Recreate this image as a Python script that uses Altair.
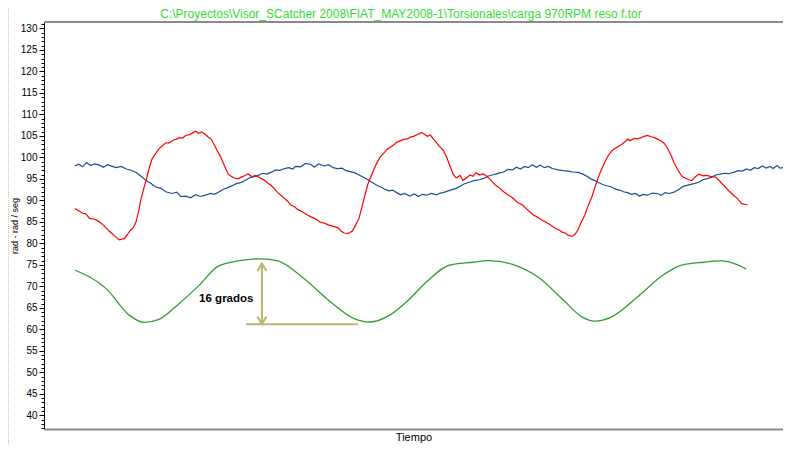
import altair as alt
import pandas as pd

TITLE = "C:\\Proyectos\\Visor_SCatcher 2008\\FIAT_MAY2008-1\\Torsionales\\carga 970RPM reso f.tor"
Y_TITLE = "rad  -  rad / seg"
X_TITLE = "Tiempo"

# time index (samples)
t_blue = [75, 79, 83, 87, 91, 95, 100, 104, 108, 113, 117, 122, 127, 132, 137, 142, 147, 152, 157, 162,
          167, 173, 178, 182, 187, 192, 197, 202, 207, 212, 216, 220, 225, 229, 233, 238, 243, 247, 252, 256,
          260, 265, 269, 273, 278, 282, 287, 291, 295, 298, 303, 308, 313, 317, 321, 327, 331, 336, 340, 345,
          349, 353, 358, 363, 367, 371, 375, 380, 384, 387, 392, 396, 400, 404, 408, 413, 418, 422, 426, 430,
          435, 440, 444, 447, 452, 456, 460, 464, 468, 473, 478, 483, 488, 492, 496, 500, 504, 508, 512, 517,
          521, 525, 529, 533, 537, 541, 545, 549, 553, 557, 563, 568, 573, 578, 583, 588, 592, 596, 600, 603,
          608, 612, 617, 621, 625, 629, 633, 637, 641, 645, 649, 653, 658, 663, 667, 671, 675, 680, 685, 690,
          695, 700, 705, 709, 713, 718, 722, 727, 731, 735, 740, 745, 749, 753, 757, 761, 765, 769, 773, 777,
          780, 784, 787, 790]
v_blue = [98.0, 98.4, 97.8, 98.8, 98.1, 98.5, 98.2, 97.7, 98.3, 97.9, 97.6, 97.9, 97.3, 97.0, 96.5, 95.6, 94.6, 93.9, 93.1, 92.8,
          92.0, 91.6, 91.9, 90.9, 91.0, 90.6, 91.3, 90.9, 91.2, 91.6, 91.4, 91.9, 92.6, 92.9, 93.3, 93.9, 94.2, 94.6, 95.3, 95.5,
          95.8, 96.3, 96.1, 96.5, 97.1, 97.0, 97.4, 97.6, 97.3, 97.9, 97.8, 98.6, 98.4, 97.7, 98.5, 98.0, 98.3, 97.6, 97.4, 97.5,
          96.9, 96.7, 96.4, 95.8, 95.3, 94.8, 94.2, 93.5, 93.1, 92.7, 92.2, 92.4, 91.8, 91.3, 91.6, 91.0, 91.5, 90.9, 91.4, 91.2,
          91.6, 91.3, 91.7, 91.8, 92.2, 92.5, 92.8, 93.3, 93.8, 94.2, 94.6, 94.8, 95.1, 95.6, 95.9, 96.1, 96.4, 96.6, 97.2, 97.1,
          97.7, 97.3, 97.9, 97.6, 98.3, 97.7, 98.2, 97.6, 97.9, 97.4, 97.1, 96.9, 96.8, 96.6, 96.5, 96.1, 95.6, 95.0, 94.6, 94.2,
          93.7, 93.4, 93.1, 92.6, 92.4, 92.0, 91.8, 91.4, 91.6, 91.0, 91.4, 91.2, 91.7, 91.6, 91.2, 91.8, 91.6, 91.9, 92.6, 93.3,
          93.6, 93.9, 94.2, 94.8, 95.0, 95.4, 95.9, 96.1, 96.3, 96.2, 96.5, 96.9, 96.8, 97.3, 97.0, 97.6, 97.4, 98.0, 97.5, 97.9,
          97.4, 98.1, 97.5, 97.6]

t_red = [75, 79, 83, 86, 90, 95, 100, 105, 110, 115, 120, 125, 128, 131, 134, 137, 140, 142, 145, 147,
         150, 153, 157, 160, 163, 167, 170, 174, 177, 181, 184, 187, 191, 194, 197, 200, 203, 207, 210, 213,
         216, 219, 222, 226, 230, 233, 236, 240, 243, 247, 250, 254, 257, 260, 264, 267, 270, 273, 277, 280,
         284, 287, 290, 293, 297, 300, 305, 310, 314, 318, 323, 327, 331, 337, 341, 344, 347, 351, 355, 358,
         362, 365, 368, 371, 375, 379, 383, 387, 390, 393, 397, 400, 404, 407, 411, 414, 417, 420, 423, 425,
         428, 431, 434, 437, 440, 443, 447, 450, 453, 457, 460, 464, 467, 471, 474, 477, 480, 484, 487, 490,
         494, 497, 500, 504, 508, 513, 517, 521, 527, 532, 538, 542, 546, 550, 555, 560, 564, 567, 570, 573,
         577, 580, 583, 586, 590, 593, 597, 600, 603, 606, 610, 613, 617, 620, 624, 627, 630, 633, 636, 640,
         643, 647, 650, 653, 657, 660, 663, 667, 670, 673, 677, 680, 684, 688, 691, 695, 698, 701, 705, 709,
         713, 717, 722, 726, 730, 735, 740, 744, 748, 751, 754]
v_red = [88.1, 87.6, 87.0, 86.9, 85.8, 85.6, 85.0, 84.0, 82.8, 81.8, 80.8, 81.1, 82.0, 83.0, 83.6, 85.0, 88.0, 90.4, 93.0, 94.6,
         97.3, 99.6, 101.0, 102.0, 102.6, 103.4, 103.3, 104.0, 104.2, 104.6, 104.5, 105.1, 105.3, 105.7, 106.1, 105.6, 105.9, 105.3, 104.7, 104.2,
         102.8, 101.5, 100.3, 98.1, 96.1, 95.6, 95.2, 95.0, 95.4, 95.8, 96.2, 95.5, 95.8, 95.5, 95.0, 94.6, 94.0, 93.5, 92.6, 91.8,
         91.0, 90.4, 89.8, 88.9, 88.5, 87.9, 87.3, 86.6, 86.1, 85.7, 84.9, 84.7, 84.3, 83.9, 83.6, 82.8, 82.4, 82.3, 82.8, 84.0,
         85.8, 88.5, 91.2, 93.8, 96.1, 98.2, 100.0, 101.0, 101.8, 102.3, 102.9, 103.5, 103.9, 104.2, 104.3, 104.7, 104.9, 105.2, 105.5, 105.8,
         105.4, 104.9, 105.2, 104.3, 103.5, 102.6, 101.7, 100.3, 98.5, 96.1, 95.2, 95.8, 94.6, 95.3, 95.9, 95.6, 96.4, 95.9, 96.2, 95.8,
         95.0, 94.2, 93.5, 92.8, 92.0, 91.2, 90.6, 89.7, 88.9, 87.8, 86.6, 86.1, 85.5, 85.0, 84.3, 83.5, 83.1, 82.6, 82.4, 81.9,
         81.6, 82.1, 83.1, 84.8, 86.6, 88.6, 90.8, 92.9, 95.0, 96.8, 98.8, 100.2, 101.5, 102.0, 102.6, 103.0, 103.5, 104.2, 103.9, 104.4,
         104.3, 104.6, 104.9, 105.1, 104.8, 104.6, 104.3, 103.8, 103.3, 102.3, 100.5, 98.8, 97.0, 95.6, 95.2, 94.8, 94.6, 95.4, 96.1, 95.7,
         95.8, 95.6, 95.4, 94.5, 93.5, 92.3, 91.2, 90.4, 89.3, 89.1, 89.0]

t_green = [75, 107, 130, 145, 160, 180, 200, 220, 240, 263, 280, 307, 333, 357, 373, 393, 410, 430, 453, 477,
           493, 517, 543, 567, 587, 600, 617, 643, 670, 687, 710, 727, 743, 753]
v_green = [73.8, 69.4, 63.3, 61.6, 62.3, 65.9, 70.1, 74.7, 75.9, 76.4, 75.9, 71.7, 66.4, 62.5, 61.7, 63.3, 66.4, 71.0, 74.9, 75.6,
           76.0, 75.1, 72.1, 67.1, 62.9, 61.9, 62.9, 67.5, 72.8, 74.9, 75.6, 75.9, 75.1, 74.0]

# annotation "16 grados"
ann_t = 264
ann_top = 75.3
ann_base = 61.2
base_t0, base_t1 = 248, 361
label_t, label_v = 228, 67.1
label_text = "16 grados"

W, H = 739, 407
PAD_TOP = 14
X_DOMAIN = [44, 790]
Y_DOMAIN = [36.8, 131.5]

xenc = alt.X("t:Q", scale=alt.Scale(domain=X_DOMAIN, nice=False, zero=False),
             axis=alt.Axis(title=X_TITLE, labels=False, ticks=False, grid=False,
                           domainColor="#8a8a8a", domainWidth=2, titleFontSize=11,
                           titleFont="Liberation Sans", titleFontWeight="normal",
                           titleColor="#000000", titlePadding=2))
yenc = alt.Y("v:Q", scale=alt.Scale(domain=Y_DOMAIN, nice=False, zero=False),
             axis=alt.Axis(title=Y_TITLE, values=list(range(37, 132)),
                           labelExpr="datum.value % 5 === 0 ? datum.label : ''",
                           labelOverlap=False, labelFontSize=10, labelFont="Liberation Sans",
                           labelColor="#000000", labelPadding=2, grid=False,
                           tickColor="#000000", domainColor="#000000",
                           tickSize={"condition": {"test": "datum.value % 5 === 0", "value": 5}, "value": 3},
                           titleAngle=270, titleX=-30, titleY=H / 2, titleAlign="center",
                           titleBaseline="middle", titleFontSize=9, titleFont="Liberation Sans",
                           titleFontWeight="normal", titleColor="#000000"))

df_blue = pd.DataFrame({"t": t_blue, "v": v_blue})
df_red = pd.DataFrame({"t": t_red, "v": v_red})
df_green = pd.DataFrame({"t": t_green, "v": v_green})

blue = alt.Chart(df_blue).mark_line(color="#1c4e8e", strokeWidth=1.2).encode(x=xenc, y=yenc)
red = alt.Chart(df_red).mark_line(color="#ff0000", strokeWidth=1.2).encode(x=xenc, y=yenc)
green = alt.Chart(df_green).mark_line(color="#339c33", strokeWidth=1.3, interpolate="monotone").encode(x=xenc, y=yenc)

ann_col = "#bdb76b"
df_vert = pd.DataFrame({"t": [ann_t], "v": [ann_top], "v2": [ann_base]})
vert = alt.Chart(df_vert).mark_rule(color=ann_col, strokeWidth=2).encode(x=xenc, y=yenc, y2="v2:Q")
df_hor = pd.DataFrame({"t": [base_t0], "t2": [base_t1], "v": [ann_base]})
hor = alt.Chart(df_hor).mark_rule(color=ann_col, strokeWidth=2).encode(x=xenc, x2="t2:Q", y=yenc)
up = alt.Chart(pd.DataFrame({"t": [ann_t], "v": [ann_top]})).mark_point(
    shape="M -0.6 1 L 0 0 L 0.6 1", size=225, filled=False, color=ann_col, strokeWidth=2, opacity=1
).encode(x=xenc, y=yenc)
down = alt.Chart(pd.DataFrame({"t": [ann_t], "v": [ann_base]})).mark_point(
    shape="M -0.6 -1 L 0 0 L 0.6 -1", size=225, filled=False, color=ann_col, strokeWidth=2, opacity=1
).encode(x=xenc, y=yenc)
lbl = alt.Chart(pd.DataFrame({"t": [label_t], "v": [label_v], "s": [label_text]})).mark_text(
    font="Liberation Sans", fontSize=11.5, fontWeight="bold", color="#000000"
).encode(x=xenc, y=yenc, text="s:N")

title_txt = alt.Chart(pd.DataFrame({"s": [TITLE]})).mark_text(
    font="Liberation Sans", fontSize=12, color="#33dd33", align="center", baseline="middle"
).encode(x=alt.value(357), y=alt.value(-8), text="s:N")

top_rule = alt.Chart(pd.DataFrame({"a": [0]})).mark_rule(color="#8a8a8a", strokeWidth=2).encode(
    x=alt.value(0), x2=alt.value(W), y=alt.value(0))
frame_v = alt.Chart(pd.DataFrame({"a": [0]})).mark_rule(color="#c9c6a0", strokeWidth=1, strokeDash=[1, 1]).encode(
    x=alt.value(-35.5), y=alt.value(-PAD_TOP), y2=alt.value(H + 16))

chart = alt.layer(blue, red, green, vert, hor, up, down, lbl, top_rule, frame_v, title_txt).properties(
    width=W, height=H,
    autosize=alt.AutoSizeParams(type="none"),
    padding={"left": 36, "top": PAD_TOP, "right": 0, "bottom": 16},
).configure_view(stroke=None).configure(background="#ffffff")

chart.save("out.html", embed_options={"renderer": "svg", "actions": False})
